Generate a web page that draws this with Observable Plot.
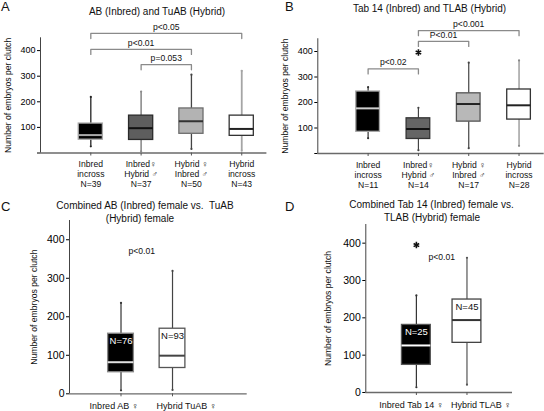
<!DOCTYPE html>
<html><head><meta charset="utf-8">
<script src="https://cdn.jsdelivr.net/npm/d3@7"></script>
<script src="https://cdn.jsdelivr.net/npm/@observablehq/plot@0.6"></script>
<style>
body{margin:0;background:#fff;font-family:"Liberation Sans","DejaVu Sans",Arial,sans-serif;}
#fig{position:relative;width:544px;height:411px;overflow:hidden;background:#fff;}
.panel{position:absolute;}
.txt{position:absolute;line-height:1;white-space:pre;color:#111;}
</style></head><body><div id="fig"></div>
<script>
// ---------- DATA ----------
const yTitle = "Number of embryos per clutch";

// Panel A
const titleA = ["AB (Inbred) and TuAB (Hybrid)"];
const groupsA = ["Inbred\nincross\nN=39", "Inbred♀\nHybrid ♂\nN=37", "Hybrid ♀\nInbred ♂\nN=50", "Hybrid\nincross\nN=43"];
const loA  = [26, 6, 16, 9];
const q1A  = [52, 51, 75, 67];
const medA = [70, 97, 124, 94];
const q3A  = [115, 146, 174, 146];
const hiA  = [219, 240, 306, 321];
const brFromA = [1, 1, 2];
const brToA = [4, 3, 3];
const brLevelA = [467, 405, 345];
const brLabelA = ["p<0.05", "p<0.01", "p=0.053"];

// Panel B
const titleB = ["Tab 14 (Inbred) and TLAB (Hybrid)"];
const groupsB = ["Inbred\nincross\nN=11", "Inbred♀\nHybrid ♂\nN=14", "Hybrid ♀\nInbred ♂\nN=17", "Hybrid\nincross\nN=28"];
const loB  = [60, 13, 21, 30];
const q1B  = [85, 57, 125, 133];
const medB = [177, 96, 194, 189];
const q3B  = [243, 138, 236, 251];
const hiB  = [260, 179, 356, 365];
const outGroupB = [2];
const outValueB = [396];
const brFromB = [1, 2, 2];
const brToB = [2, 3, 4];
const brLevelB = [332, 440, 482];
const brLabelB = ["p<0.02", "P<0.01", "p<0.001"];

// Panel C
const titleC = ["Combined AB (Inbred) female vs.  TuAB", "(Hybrid) female"];
const groupsC = ["Inbred AB ♀", "Hybrid TuAB ♀"];
const nC = ["N=76", "N=93"];
const loC  = [9, 10];
const q1C  = [56, 67];
const medC = [82, 99];
const q3C  = [156, 169];
const hiC  = [236, 319];
const pLabelC = ["p<0.01"];
const pLevelC = [370];

// Panel D
const titleD = ["Combined Tab 14 (Inbred) female vs.", "TLAB (Hybrid) female"];
const groupsD = ["Inbred Tab 14 ♀", "Hybrid TLAB ♀"];
const nD = ["N=25", "N=45"];
const loD  = [14, 21];
const q1D  = [74, 133];
const medD = [126, 194];
const q3D  = [181, 249];
const hiD  = [260, 361];
const outGroupD = [1];
const outValueD = [395];
const pLabelD = ["p<0.01"];
const pLevelD = [363];

const yTicks = [0, 100, 200, 300, 400];
const yMax = 450;

// ---------- DRAWING ----------
const fig = document.getElementById("fig");
const FONT = "Liberation Sans, DejaVu Sans, Arial, sans-serif";

function panel(cfg) {
  const rows = cfg.groups.map((g, k) => ({
    i: k + 1, label: g, lo: cfg.lo[k], q1: cfg.q1[k], med: cfg.med[k], q3: cfg.q3[k], hi: cfg.hi[k],
    n: cfg.n ? cfg.n[k] : null
  }));
  const hw = cfg.boxW / 2;
  const marks = [];
  // axis lines
  marks.push(Plot.ruleY([0], {stroke: "#6a6a6a", strokeWidth: 1.3}));
  marks.push(Plot.ruleX([0], {y1: 0, y2: yMax, stroke: "#444", strokeWidth: 1}));
  marks.push(Plot.axisY({ticks: yTicks, tickSize: 3, tickPadding: 2, fontSize: cfg.tickFont, label: null,
    tickFormat: d => (d === 0 && !cfg.showZero) ? "" : String(d)}));
  marks.push(Plot.axisX({ticks: rows.map(r => r.i), tickSize: 3, tickFormat: () => "", label: null, stroke: "#555"}));
  // y title
  marks.push(Plot.text([yTitle], {text: d => d, frameAnchor: "left", textAnchor: "middle", rotate: -90,
    dx: cfg.ytDx, fontSize: 8.6, fill: "#111"}));
  // boxes
  rows.forEach((r, k) => {
    const st = cfg.style[k];
    marks.push(Plot.ruleX([r], {x: "i", y1: "q3", y2: "hi", stroke: st.whisker, strokeWidth: st.ww}));
    marks.push(Plot.ruleX([r], {x: "i", y1: "lo", y2: "q1", stroke: st.whisker, strokeWidth: st.ww}));
    marks.push(Plot.dot([r], {x: "i", y: "hi", r: 1.1, fill: st.whisker, stroke: null}));
    marks.push(Plot.dot([r], {x: "i", y: "lo", r: 1.1, fill: st.whisker, stroke: null}));
    marks.push(Plot.rect([r], {x1: d => d.i - hw, x2: d => d.i + hw, y1: "q1", y2: "q3",
      fill: st.fill, stroke: st.stroke, strokeWidth: 1.3}));
    marks.push(Plot.ruleY([r], {x1: d => d.i - hw, x2: d => d.i + hw, y: "med", stroke: st.median, strokeWidth: 2}));
    if (r.n) marks.push(Plot.text([r], {x: "i", y: "q3", text: "n", dy: 7.5, fontSize: 9.5, fill: st.nColor}));
    marks.push(Plot.text([r], {x: "i", y: 0, text: "label", dy: cfg.labelDy, dx: cfg.labelDx ? cfg.labelDx[k] : 0,
      lineAnchor: "top", fontSize: cfg.labelFont, lineHeight: cfg.lineHeight, fill: "#111"}));
  });
  // brackets
  if (cfg.brFrom) {
    cfg.brFrom.forEach((f, k) => {
      const t = cfg.brTo[k], lv = cfg.brLevel[k], leg = 20;
      marks.push(Plot.line([{x: f, y: lv - leg}, {x: f, y: lv}, {x: t, y: lv}, {x: t, y: lv - leg}],
        {x: "x", y: "y", stroke: "#8a8a8a", strokeWidth: 1.3}));
      marks.push(Plot.text([cfg.brLabel[k]], {x: (f + t) / 2, y: lv, text: d => d, dy: -6.3, fontSize: 8.6, fill: "#111"}));
    });
  }
  // p annotation
  if (cfg.pLabel) {
    marks.push(Plot.text(cfg.pLabel, {x: 1.5, y: cfg.pLevel, text: d => d, dx: cfg.pDx || 0, fontSize: 8.6, fill: "#111"}));
  }
  // outliers
  if (cfg.outGroup) {
    const outs = cfg.outGroup.map((g, k) => ({i: g, v: cfg.outValue[k]}));
    marks.push(Plot.dot(outs, {x: "i", y: "v", symbol: "asterisk", r: 3, stroke: "#111", strokeWidth: 1.6}));
  }
  const svg = Plot.plot({
    width: cfg.width, height: cfg.height,
    marginTop: cfg.mt, marginBottom: cfg.mb, marginLeft: cfg.ml, marginRight: cfg.mr,
    x: {type: "linear", domain: cfg.xDomain},
    y: {type: "linear", domain: [0, yMax]},
    style: {fontFamily: FONT, background: "transparent", overflow: "visible"},
    marks
  });
  const div = document.createElement("div");
  div.className = "panel";
  div.style.left = cfg.left + "px";
  div.style.top = cfg.top + "px";
  div.style.width = cfg.width + "px";
  div.appendChild(svg);
  fig.appendChild(div);
}

function addText(str, cx, cy, size, center = true) {
  const d = document.createElement("div");
  d.className = "txt";
  d.textContent = str;
  d.style.fontSize = size + "px";
  d.style.left = cx + "px";
  d.style.top = cy + "px";
  if (center) d.style.transform = "translate(-50%,-50%)";
  fig.appendChild(d);
}

const styleA = [
  {fill: "#000", stroke: "#a8a8a8", median: "#a8a8a8", whisker: "#222", ww: 1.3},
  {fill: "#5e5e5e", stroke: "#2a2a2a", median: "#111", whisker: "#8c8c8c", ww: 1.6},
  {fill: "#b3b3b3", stroke: "#6e6e6e", median: "#333", whisker: "#444", ww: 1.3},
  {fill: "#fff", stroke: "#333", median: "#222", whisker: "#a5a5a5", ww: 1.8}
];
const styleB = [
  {fill: "#000", stroke: "#a8a8a8", median: "#cfcfcf", whisker: "#333", ww: 1.2},
  {fill: "#656565", stroke: "#333", median: "#111", whisker: "#444", ww: 1.2},
  {fill: "#b8b8b8", stroke: "#555", median: "#222", whisker: "#444", ww: 1.2},
  {fill: "#fff", stroke: "#333", median: "#222", whisker: "#888", ww: 1.2}
];
const styleC = [
  {fill: "#000", stroke: "#888", median: "#e0e0e0", whisker: "#333", ww: 1.2, nColor: "#fff"},
  {fill: "#fff", stroke: "#555", median: "#444", whisker: "#444", ww: 1.2, nColor: "#111"}
];
const styleD = [
  {fill: "#000", stroke: "#555", median: "#fff", whisker: "#333", ww: 1.2, nColor: "#fff"},
  {fill: "#fff", stroke: "#444", median: "#333", whisker: "#555", ww: 1.2, nColor: "#111"}
];

panel({left: 0, top: 0, width: 272, height: 205, mt: 37.3, mb: 52.5, ml: 40, mr: 5.6, xDomain: [0, 4.5],
  groups: groupsA, lo: loA, q1: q1A, med: medA, q3: q3A, hi: hiA, boxW: 0.48, style: styleA,
  tickFont: 9, showZero: false, ytDx: -32.5, labelDy: 7, labelFont: 8.6, lineHeight: 1.17,
  brFrom: brFromA, brTo: brToA, brLevel: brLevelA, brLabel: brLabelA});

panel({left: 272, top: 0, width: 272, height: 205, mt: 38.25, mb: 52, ml: 45.3, mr: 0.3, xDomain: [0, 4.5],
  groups: groupsB, lo: loB, q1: q1B, med: medB, q3: q3B, hi: hiB, boxW: 0.47, style: styleB,
  tickFont: 9, showZero: false, ytDx: -33, labelDy: 7, labelFont: 8.6, lineHeight: 1.17,
  brFrom: brFromB, brTo: brToB, brLevel: brLevelB, brLabel: brLabelB,
  outGroup: outGroupB, outValue: outValueB});

panel({left: 0, top: 205, width: 272, height: 206, mt: 15, mb: 17.7, ml: 69, mr: 25.3, xDomain: [0, 3.45],
  groups: groupsC, lo: loC, q1: q1C, med: medC, q3: q3C, hi: hiC, n: nC, boxW: 0.5, style: styleC,
  tickFont: 10.5, showZero: true, ytDx: -35, labelDy: 8.5, labelDx: [-7, 14], labelFont: 9, lineHeight: 1,
  pLabel: pLabelC, pLevel: pLevelC, pDx: -5});

panel({left: 272, top: 205, width: 272, height: 206, mt: 19, mb: 19, ml: 93.3, mr: 32, xDomain: [0, 2.9],
  groups: groupsD, lo: loD, q1: q1D, med: medD, q3: q3D, hi: hiD, n: nD, boxW: 0.57, style: styleD,
  tickFont: 10.5, showZero: true, ytDx: -38, labelDy: 9.5, labelDx: [-5, 14], labelFont: 9, lineHeight: 1,
  pLabel: pLabelD, pLevel: pLevelD, outGroup: outGroupD, outValue: outValueD});

// titles and panel letters
addText(titleA[0], 157, 12, 10);
addText(titleB[0], 429.5, 9, 10);
addText(titleC[0], 145, 205.5, 10);
addText(titleC[1], 140, 218.5, 10);
addText(titleD[0], 431.5, 205, 10);
addText(titleD[1], 432, 218, 10);
addText("A", 1, 0, 13, false);
addText("B", 285, 0, 13, false);
addText("C", 1, 200, 13, false);
addText("D", 285, 200, 13, false);
</script>
</body></html>
